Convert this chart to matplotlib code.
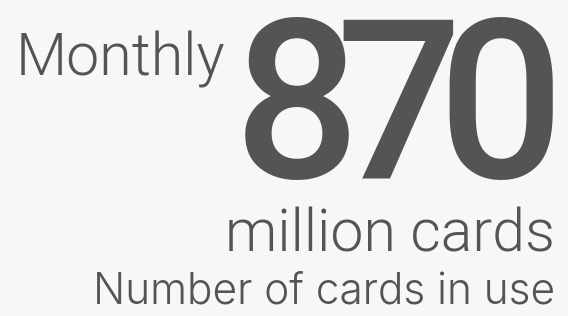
import matplotlib.pyplot as plt

# headline figure
prefix = 'Monthly'
value = 870
unit = 'million cards'
caption = 'Number of cards in use'

bg = '#f7f7f7'
ink = '#555355'

fig = plt.figure(figsize=(5.68, 3.16), dpi=100, facecolor=bg)
ax = fig.add_axes([0, 0, 1, 1])
ax.set_xlim(0, 568)
ax.set_ylim(316, 0)
ax.axis('off')

ax.text(16, 76, prefix, fontsize=42.5, family='Roboto', weight=300,
        color=ink, ha='left', va='baseline')

# big digits, set tight like the original
x0, step = 297, 102
for i, d in enumerate(str(value)):
    ax.text(x0 + i * step, 178, d, fontsize=160, family='Roboto', weight=500,
            color=ink, ha='center', va='baseline')

ax.text(555, 252, unit, fontsize=42.5, family='Roboto', weight=300,
        color=ink, ha='right', va='baseline')
ax.text(555, 303, caption, fontsize=30.5, family='Inter', weight=300,
        color=ink, ha='right', va='baseline')

fig.savefig('out.png', dpi=100, facecolor=bg)
